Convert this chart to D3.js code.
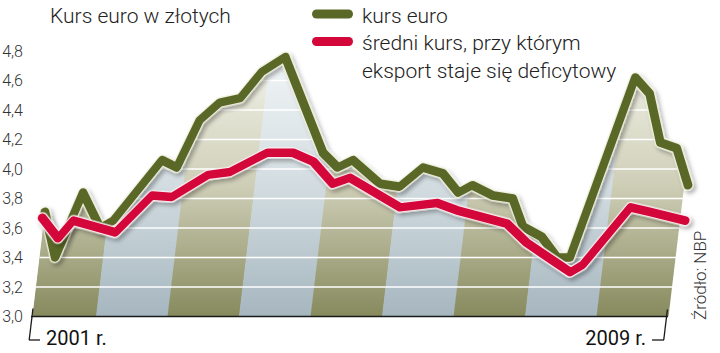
<!DOCTYPE html>
<html>
<head>
<meta charset="utf-8">
<script src="https://cdn.jsdelivr.net/npm/d3@7"></script>
<style>
  body { margin: 0; background: #fff; }
  svg { display: block; font-family: Roboto, "Open Sans", sans-serif; }
</style>
</head>
<body>
<svg id="chart"></svg>
<script>
// kurs euro (zielona linia) - daty jako ułamek roku
let kursDates = [2001.11, 2001.33, 2001.61, 2001.91, 2002.08, 2002.66, 2002.88, 2003.12, 2003.37, 2003.65,
    2003.91, 2004.21, 2004.90, 2005.13, 2005.33, 2005.75, 2006.03, 2006.32, 2006.61, 2006.86,
    2007.04, 2007.35, 2007.63, 2007.82, 2008.10, 2008.35, 2008.53, 2009.14, 2009.37, 2009.60,
    2009.84, 2010.06];
let kursValues = [3.71, 3.40, 3.84, 3.60, 3.65, 4.06, 4.01, 4.33, 4.45, 4.48,
    4.66, 4.76, 4.11, 4.01, 4.06, 3.90, 3.88, 4.01, 3.97, 3.84,
    3.89, 3.82, 3.80, 3.61, 3.54, 3.40, 3.40, 4.62, 4.51, 4.18,
    4.14, 3.89];

// średni kurs, przy którym eksport staje się deficytowy (czerwona linia)
let progDates = [2001.08, 2001.34, 2001.52, 2002.13, 2002.58, 2002.86, 2003.33, 2003.63, 2004.12, 2004.48,
    2004.78, 2005.09, 2005.32, 2006.07, 2006.58, 2006.87, 2007.59, 2007.90, 2008.36, 2008.56,
    2008.72, 2009.29, 2009.57, 2010.08];
let progValues = [3.67, 3.53, 3.65, 3.57, 3.82, 3.81, 3.96, 3.98, 4.11, 4.11,
    4.05, 3.90, 3.94, 3.74, 3.77, 3.72, 3.63, 3.50, 3.36, 3.30,
    3.35, 3.74, 3.71, 3.65];

let years = [2001, 2002, 2003, 2004, 2005, 2006, 2007, 2008, 2009];
let yTicks = [3.0, 3.2, 3.4, 3.6, 3.8, 4.0, 4.2, 4.4, 4.6, 4.8];
let gridTicks = [3.2, 3.4, 3.6, 3.8, 4.0, 4.2, 4.4, 4.6];

function createChart() {
    let w = 720, h = 353;
    let svg = d3.select("#chart").attr("width", w).attr("height", h);

    let x = d3.scaleLinear().domain([2001, 2010]).range([24.5, 668]);
    let y = d3.scaleLinear().domain([3.0, 4.8]).range([316.5, 51]);
    let base = y(3.0);
    let skew = -Math.atan(0.12) * 180 / Math.PI;

    let kurs = kursDates.map((t, i) => ({ t: t, v: kursValues[i] }));
    let prog = progDates.map((t, i) => ({ t: t, v: progValues[i] }));

    let defs = svg.append("defs");

    let grads = [
        { id: "gOlive", top: "#f4f4ec", mid: "#cfcfb8", bottom: "#878a5d" },
        { id: "gBlue", top: "#f2f6f7", mid: "#d3dde1", bottom: "#a6b6bf" }
    ];
    grads.forEach(g => {
        let lg = defs.append("linearGradient").attr("id", g.id)
            .attr("gradientUnits", "userSpaceOnUse")
            .attr("x1", 0).attr("x2", 0).attr("y1", y(4.8)).attr("y2", base);
        lg.append("stop").attr("offset", "0%").attr("stop-color", g.top);
        lg.append("stop").attr("offset", "50%").attr("stop-color", g.mid);
        lg.append("stop").attr("offset", "100%").attr("stop-color", g.bottom);
    });

    let shadow = defs.append("filter").attr("id", "shadow")
        .attr("x", "-10%").attr("y", "-10%").attr("width", "120%").attr("height", "130%");
    shadow.append("feDropShadow").attr("dx", 3).attr("dy", 3).attr("stdDeviation", 2.2)
        .attr("flood-color", "#000").attr("flood-opacity", 0.3);

    let area = d3.area()
        .x(d => x(d.t))
        .y0(base)
        .y1(d => y(d.v));

    defs.append("clipPath").attr("id", "areaClip")
        .append("path").attr("d", area(kurs));

    // wszystko w ukośnym układzie
    let plot = svg.append("g")
        .attr("transform", `translate(0,${base}) skewX(${skew}) translate(0,${-base})`);

    let inside = plot.append("g").attr("clip-path", "url(#areaClip)");

    inside.selectAll("rect.band")
        .data(years)
        .enter()
        .append("rect")
        .attr("class", "band")
        .attr("x", d => x(d))
        .attr("width", d => x(d + 1) - x(d) + 0.5)
        .attr("y", y(4.8) - 40)
        .attr("height", base - y(4.8) + 40)
        .style("fill", (d, i) => i % 2 === 0 ? "url(#gOlive)" : "url(#gBlue)");

    inside.selectAll("line.grid")
        .data(gridTicks)
        .enter()
        .append("line")
        .attr("class", "grid")
        .attr("x1", 0).attr("x2", 720)
        .attr("y1", d => y(d)).attr("y2", d => y(d))
        .style("stroke", "#fff")
        .style("stroke-width", 1.6);

    let line = d3.line().x(d => x(d.t)).y(d => y(d.v));

    let series = [
        { data: kurs, color: "#5a6827", halo: "#eeeedd" },
        { data: prog, color: "#d3073a", halo: "#fbeef0" }
    ];
    series.forEach(s => {
        let g = plot.append("g");
        g.append("path")
            .attr("d", line(s.data))
            .attr("filter", "url(#shadow)")
            .style("fill", "none")
            .style("stroke", s.halo)
            .style("stroke-width", 11)
            .style("stroke-linejoin", "round")
            .style("stroke-linecap", "round");
        g.append("path")
            .attr("d", line(s.data))
            .style("fill", "none")
            .style("stroke", s.color)
            .style("stroke-width", 8.5)
            .style("stroke-linejoin", "round")
            .style("stroke-linecap", "round");
    });

    // oś pozioma i nawiasy lat
    svg.append("line")
        .attr("x1", 31).attr("x2", 668)
        .attr("y1", base).attr("y2", base)
        .style("stroke", "#1a1a1a").style("stroke-width", 1.4);

    plot.append("path")
        .attr("d", `M${x(2001.105)},${base - 8} L${x(2001.105)},${base + 23.5}`)
        .style("stroke", "#1a1a1a").style("stroke-width", 1.3).style("fill", "none");
    plot.append("path")
        .attr("d", `M${x(2009.98)},${base - 7} L${x(2009.98)},${base + 23.5}`)
        .style("stroke", "#1a1a1a").style("stroke-width", 1.3).style("fill", "none");
    svg.append("line")
        .attr("x1", 29).attr("x2", 40).attr("y1", base + 23.5).attr("y2", base + 23.5)
        .style("stroke", "#1a1a1a").style("stroke-width", 1.3);
    svg.append("line")
        .attr("x1", 652).attr("x2", 664).attr("y1", base + 23.5).attr("y2", base + 23.5)
        .style("stroke", "#1a1a1a").style("stroke-width", 1.3);

    svg.append("text")
        .attr("x", 46).attr("y", 345)
        .style("font-size", "20px").style("fill", "#111")
        .text("2001 r.");
    svg.append("text")
        .attr("x", 646).attr("y", 345)
        .style("font-size", "20px").style("fill", "#111")
        .style("text-anchor", "end")
        .text("2009 r.");

    // oś pionowa
    let yAxis = svg.append("g")
        .attr("transform", "translate(26,0)")
        .call(d3.axisLeft(y).tickValues(yTicks).tickSize(0).tickPadding(3)
            .tickFormat(d => d3.format(".1f")(d).replace(".", ",")));
    yAxis.select(".domain").remove();
    yAxis.selectAll("text")
        .style("font-family", "Roboto, sans-serif")
        .style("font-size", "16px")
        .style("font-weight", 300)
        .style("fill", "#333");

    // tytuł
    svg.append("text")
        .attr("x", 50).attr("y", 23)
        .style("font-size", "21px").style("font-weight", 300).style("fill", "#222")
        .text("Kurs euro w złotych");

    // legenda
    let legend = [
        { color: "#5a6827", lines: ["kurs euro"] },
        { color: "#d3073a", lines: ["średni kurs, przy którym", "eksport staje się deficytowy"] }
    ];
    legend.forEach((l, i) => {
        let ly = 14 + i * 27.5;
        svg.append("rect")
            .attr("x", 312).attr("y", ly - 4.5)
            .attr("width", 41).attr("height", 9).attr("rx", 4.5)
            .style("fill", l.color);
        l.lines.forEach((t, j) => {
            svg.append("text")
                .attr("x", 362).attr("y", ly + 8.5 + j * 28)
                .style("font-size", "21px").style("font-weight", 300).style("fill", "#222")
                .text(t);
        });
    });

    // źródło
    svg.append("text")
        .attr("transform", "translate(706,320) rotate(-90)")
        .style("font-size", "17px").style("font-weight", 300).style("fill", "#333")
        .text("Źródło: NBP");
}

window.onload = function() {
    createChart();
};
</script>
</body>
</html>
